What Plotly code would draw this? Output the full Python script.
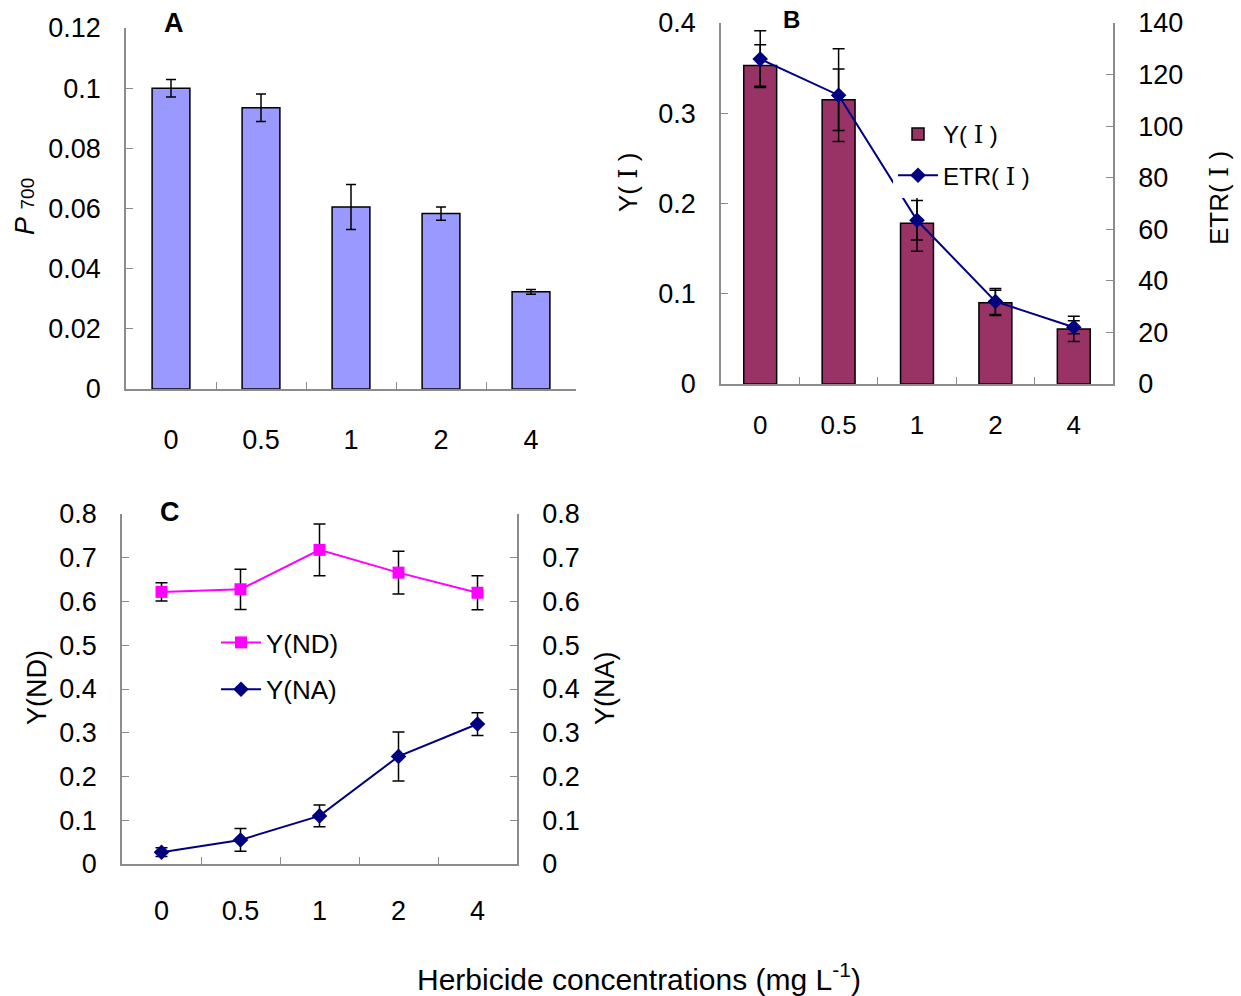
import plotly.graph_objects as go

W, H = 1241, 996

# ---------------- data ----------------
concentrations = ["0", "0.5", "1", "2", "4"]

p700 = [0.100, 0.0935, 0.0605, 0.0583, 0.0323]
p700_err = [0.0029, 0.0046, 0.0075, 0.0022, 0.0008]

y_I = [0.353, 0.315, 0.178, 0.090, 0.061]
y_I_err = [0.023, 0.034, 0.031, 0.014, 0.014]
etr_I = [126, 112, 63.5, 32, 22]
etr_I_err = [11, 18, 7.7, 5, 2.5]

y_ND = [0.622, 0.628, 0.718, 0.666, 0.620]
y_ND_err = [0.021, 0.046, 0.059, 0.049, 0.039]
y_NA = [0.027, 0.055, 0.110, 0.246, 0.320]
y_NA_err = [0.010, 0.026, 0.025, 0.056, 0.026]

x_title = "Herbicide concentrations (mg L<sup>-1</sup>)"

# ---------------- styles ----------------
NARROW = "Liberation Sans, Arial, sans-serif"
ARIAL = "Liberation Sans, Arial, DejaVu Sans, sans-serif"
GREY = "#8c8c8c"


def roman(size):
    return "<span style='font-family:DejaVu Serif;font-size:%dpx'>Ⅰ</span>" % size


def fx(px):
    return px / W


def fy(py):
    return 1 - py / H


fig = go.Figure()

# Panel A
fig.add_trace(go.Bar(
    x=concentrations, y=p700, xaxis="x", yaxis="y",
    marker=dict(color="#9999FF", line=dict(color="black", width=1.5)),
    error_y=dict(type="data", array=p700_err, color="black", thickness=1.5, width=5),
    width=0.42, showlegend=False, name="P700"))

# Panel B
fig.add_trace(go.Bar(
    x=concentrations, y=y_I, xaxis="x2", yaxis="y3",
    marker=dict(color="#993366", line=dict(color="black", width=1.5)),
    error_y=dict(type="data", array=y_I_err, color="black", thickness=1.5, width=6),
    width=0.42, name="Y( " + roman(24) + " )", legend="legend", legendgroup="a"))
fig.add_trace(go.Scatter(
    x=concentrations, y=etr_I, xaxis="x2", yaxis="y4", mode="lines+markers",
    line=dict(color="#000080", width=2),
    marker=dict(symbol="diamond", size=12, color="#000080"),
    error_y=dict(type="data", array=etr_I_err, color="black", thickness=1.5, width=6),
    name="ETR( " + roman(24) + " )", legend="legend", legendgroup="b"))

# Panel C
fig.add_trace(go.Scatter(
    x=concentrations, y=y_ND, xaxis="x3", yaxis="y5", mode="lines+markers",
    line=dict(color="#FF00FF", width=2),
    marker=dict(symbol="square", size=12, color="#FF00FF"),
    error_y=dict(type="data", array=y_ND_err, color="black", thickness=1.5, width=6),
    name="Y(ND)", legend="legend2", legendgroup="c"))
fig.add_trace(go.Scatter(
    x=concentrations, y=y_NA, xaxis="x3", yaxis="y6", mode="lines+markers",
    line=dict(color="#000080", width=2),
    marker=dict(symbol="diamond", size=12, color="#000080"),
    error_y=dict(type="data", array=y_NA_err, color="black", thickness=1.5, width=6),
    name="Y(NA)", legend="legend2", legendgroup="d"))

common_x = dict(type="category", range=[-0.5, 4.5], showline=True, linecolor=GREY,
                linewidth=1.5, ticks="inside", tickson="boundaries", ticklen=7,
                tickcolor=GREY, showgrid=False, zeroline=False, automargin=False)
common_y = dict(showline=True, linecolor=GREY, linewidth=1.5, ticks="inside",
                ticklen=7, tickcolor=GREY, showgrid=False, zeroline=False,
                automargin=False)

fig.update_layout(
    width=W, height=H, margin=dict(l=0, r=0, t=0, b=0, autoexpand=False),
    paper_bgcolor="white", plot_bgcolor="white",
    font=dict(family=ARIAL, color="black"),
    # A
    xaxis=dict(common_x, domain=[fx(126), fx(576)], anchor="y",
               tickfont=dict(family=NARROW, size=27), ticklabelstandoff=26),
    yaxis=dict(common_y, domain=[fy(389), fy(28)], anchor="x", range=[0, 0.12],
               dtick=0.02, tickformat="~g", tickfont=dict(family=NARROW, size=27),
               ticklabelstandoff=18),
    # B
    xaxis2=dict(common_x, domain=[fx(721), fx(1113)], anchor="y3",
                tickfont=dict(family=ARIAL, size=26), ticklabelstandoff=17),
    yaxis3=dict(common_y, domain=[fy(384), fy(23)], anchor="x2", range=[0, 0.4],
                dtick=0.1, tickformat="~g", tickfont=dict(family=ARIAL, size=27),
                ticklabelstandoff=18),
    yaxis4=dict(common_y, overlaying="y3", side="right", anchor="x2", range=[0, 140],
                dtick=20, tickfont=dict(family=ARIAL, size=27), ticklabelstandoff=18),
    # C
    xaxis3=dict(common_x, domain=[fx(122), fx(517)], anchor="y5",
                tickfont=dict(family=NARROW, size=27), ticklabelstandoff=22),
    yaxis5=dict(common_y, domain=[fy(864), fy(514)], anchor="x3", range=[0, 0.8],
                dtick=0.1, tickformat="~g", tickfont=dict(family=NARROW, size=27),
                ticklabelstandoff=18),
    yaxis6=dict(common_y, overlaying="y5", side="right", anchor="x3", range=[0, 0.8],
                dtick=0.1, tickformat="~g", tickfont=dict(family=NARROW, size=27),
                ticklabelstandoff=18),
    legend=dict(x=fx(893), y=fy(112), xanchor="left", yanchor="top",
                bgcolor="white", font=dict(family=ARIAL, size=24),
                traceorder="grouped", tracegroupgap=7, itemwidth=40),
    legend2=dict(x=fx(216), y=fy(619), xanchor="left", yanchor="top",
                 bgcolor="rgba(255,255,255,0)", font=dict(family=NARROW, size=26),
                 traceorder="grouped", tracegroupgap=10, itemwidth=40),
)

annotations = [
    dict(text="<b>A</b>", x=fx(174), y=fy(23), font=dict(family=ARIAL, size=27)),
    dict(text="<b>B</b>", x=fx(791), y=fy(19), font=dict(family=ARIAL, size=24)),
    dict(text="<b>C</b>", x=fx(170), y=fy(512), font=dict(family=ARIAL, size=27)),
    dict(text="<i>P</i> <span style='font-size:19px'>700</span>", x=fx(25), y=fy(207),
         textangle=-90, font=dict(family=ARIAL, size=27)),
    dict(text="Y( " + roman(26) + " )", x=fx(628), y=fy(183), textangle=-90,
         font=dict(family=ARIAL, size=26)),
    dict(text="ETR( " + roman(26) + " )", x=fx(1219), y=fy(198), textangle=-90,
         font=dict(family=ARIAL, size=26)),
    dict(text="Y(ND)", x=fx(37), y=fy(688), textangle=-90,
         font=dict(family=ARIAL, size=27)),
    dict(text="Y(NA)", x=fx(605), y=fy(688), textangle=-90,
         font=dict(family=ARIAL, size=27)),
    dict(text=x_title, x=fx(639), y=fy(977), font=dict(family=ARIAL, size=30)),
]
for a in annotations:
    a.update(xref="paper", yref="paper", showarrow=False, xanchor="center", yanchor="middle")
fig.update_layout(annotations=annotations)

fig.write_html("out.html", config={"displayModeBar": False},
               post_script="document.body.style.margin='0';")
